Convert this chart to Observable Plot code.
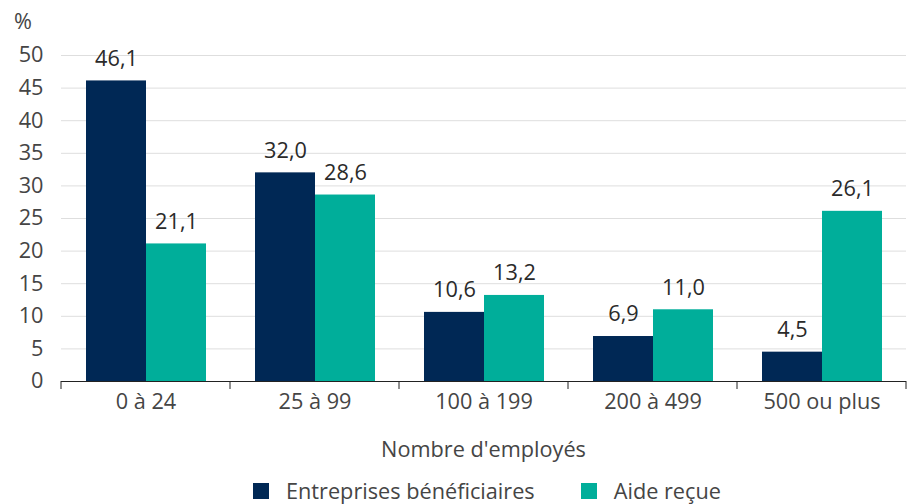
<!DOCTYPE html>
<html>
<head>
<meta charset="utf-8">
<script src="https://cdn.jsdelivr.net/npm/d3@7"></script>
<script src="https://cdn.jsdelivr.net/npm/@observablehq/plot@0.6"></script>
<style>
  body { margin: 0; background: #fff; font-family: "Open Sans", sans-serif; }
  #wrap { position: relative; width: 914px; height: 504px; overflow: hidden; }
  #unit { position: absolute; left: 14px; top: 6px; font-size: 21.7px; color: #454545; }
  #xtitle { position: absolute; left: 60px; width: 847px; top: 434px; text-align: center; font-size: 21.7px; color: #454545; }
  #legend { position: absolute; left: 253px; top: 476px; display: flex; align-items: center; font-size: 21.7px; color: #454545; }
  .item { display: flex; align-items: center; }
  .sw { width: 16px; height: 16px; margin-right: 17px; }
  .item + .item { margin-left: 46px; }
</style>
</head>
<body>
<div id="wrap">
  <div id="chart"></div>
  <div id="unit">%</div>
  <div id="xtitle">Nombre d'employés</div>
  <div id="legend"></div>
</div>
<script>
const groups = ["0 à 24", "25 à 99", "100 à 199", "200 à 499", "500 ou plus"];
const seriesNames = ["Entreprises bénéficiaires", "Aide reçue"];
const entreprises = [46.1, 32.0, 10.6, 6.9, 4.5];
const aide = [21.1, 28.6, 13.2, 11.0, 26.1];
const colors = ["#002855", "#00ae9a"];
const yTicks = [0, 5, 10, 15, 20, 25, 30, 35, 40, 45, 50];

const data = groups.flatMap((g, i) => [
  {group: g, series: seriesNames[0], value: entreprises[i]},
  {group: g, series: seriesNames[1], value: aide[i]}
]);
const fmt = v => v.toFixed(1).replace(".", ",");

const chart = Plot.plot({
  width: 914,
  height: 425,
  marginLeft: 60,
  marginRight: 7,
  marginTop: 55,
  marginBottom: 44,
  style: {fontFamily: "'Open Sans', sans-serif", fontSize: "21.7px", color: "#454545", background: "white"},
  facet: {data, x: "group"},
  fx: {domain: groups, padding: 0, label: null, tickSize: 0, tickPadding: 12},
  x: {domain: seriesNames, paddingInner: 0, paddingOuter: 0.4, axis: null},
  y: {domain: [0, 50], ticks: yTicks, label: null, tickSize: 0, tickPadding: 18, tickFormat: d => String(d)},
  color: {domain: seriesNames, range: colors},
  marks: [
    Plot.ruleY(yTicks, {stroke: "#dedede", strokeWidth: 1}),
    Plot.barY(data, {x: "series", y: "value", fill: "series"}),
    Plot.text(data, {x: "series", y: "value", text: d => fmt(d.value), dy: -22, fontSize: 21.7, fill: "#2a2a2a"}),
    Plot.ruleY([0], {stroke: "#222", strokeWidth: 1})
  ]
});
document.getElementById("chart").appendChild(chart);

// group separator ticks on the x axis, placed from the library's fx and y scales
const fxs = chart.scale("fx");
const bw = fxs.bandwidth != null ? fxs.bandwidth : (fxs.range[1] - fxs.range[0]) / groups.length;
const bounds = groups.map(g => fxs.apply(g));
bounds.push(bounds[bounds.length - 1] + bw);
const y0 = chart.scale("y").apply(0);
d3.select(chart).append("g")
  .selectAll("line").data(bounds).join("line")
  .attr("x1", d => d).attr("x2", d => d)
  .attr("y1", y0).attr("y2", y0 + 8)
  .attr("stroke", "#222").attr("stroke-width", 1);

const legend = d3.select("#legend");
seriesNames.forEach((s, i) => {
  const it = legend.append("div").attr("class", "item");
  it.append("div").attr("class", "sw").style("background", colors[i]);
  it.append("span").text(s);
});
</script>
</body>
</html>
